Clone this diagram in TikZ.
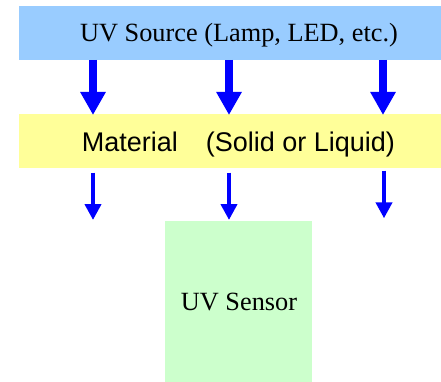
\documentclass[tikz,border=0pt]{standalone}
\usepackage{fontspec}
\setmainfont{Liberation Serif}
\newfontfamily\gulim{Liberation Sans}
\usetikzlibrary{arrows.meta}
\definecolor{srcblue}{HTML}{99CCFF}
\definecolor{matyellow}{HTML}{FFFF99}
\definecolor{sensgreen}{HTML}{CCFFCC}
\definecolor{arrblue}{HTML}{0000FF}
\tikzset{
  box/.style={draw=none, inner sep=0pt, outer sep=0pt},
  bigarrow/.style={draw=arrblue, line width=8.5pt, -{Triangle[width=24pt,length=23pt]}},
  smallarrow/.style={draw=arrblue, line width=4.5pt, -{Triangle[width=16pt,length=16pt]}},
}
\begin{document}
\begin{tikzpicture}[x=1pt,y=-1pt]
\useasboundingbox (0,0) rectangle (441,382);
% boxes
\node[box, fill=srcblue, minimum width=422pt, minimum height=54pt, anchor=north west] (src) at (19,6) {};
\node[box, fill=matyellow, minimum width=422pt, minimum height=54pt, anchor=north west] (mat) at (19,114) {};
\node[box, fill=sensgreen, minimum width=147pt, minimum height=161pt, anchor=north west] (sens) at (165,221) {};
% texts
\node[anchor=base, inner sep=0pt] (srct) at (239,42) {\fontsize{26.3}{30}\selectfont UV Source (Lamp, LED, etc.)};
\node[anchor=base, inner sep=0pt] (matt) at (238.5,152) {\gulim\fontsize{27}{30}\selectfont Material\hspace{28pt}(Solid or Liquid)};
\node[anchor=base, inner sep=0pt] (senst) at (239,310) {\fontsize{26.3}{30}\selectfont UV Sensor};
% arrow ends
\coordinate (t1) at (93,115);
\coordinate (t2) at (229,115);
\coordinate (t3) at (383,115);
\coordinate (b1) at (93,220);
\coordinate (b2) at (229,220);
\coordinate (b3) at (384,218.3);
\draw[bigarrow] (src.south -| t1) -- (t1);
\draw[bigarrow] (src.south -| t2) -- (t2);
\draw[bigarrow] (src.south -| t3) -- (t3);
\draw[smallarrow] ([yshift=-4.7pt]mat.south -| b1) -- (b1);
\draw[smallarrow] ([yshift=-4.7pt]mat.south -| b2) -- (b2);
\draw[smallarrow] ([yshift=-2.7pt]mat.south -| b3) -- (b3);
\end{tikzpicture}
\end{document}
